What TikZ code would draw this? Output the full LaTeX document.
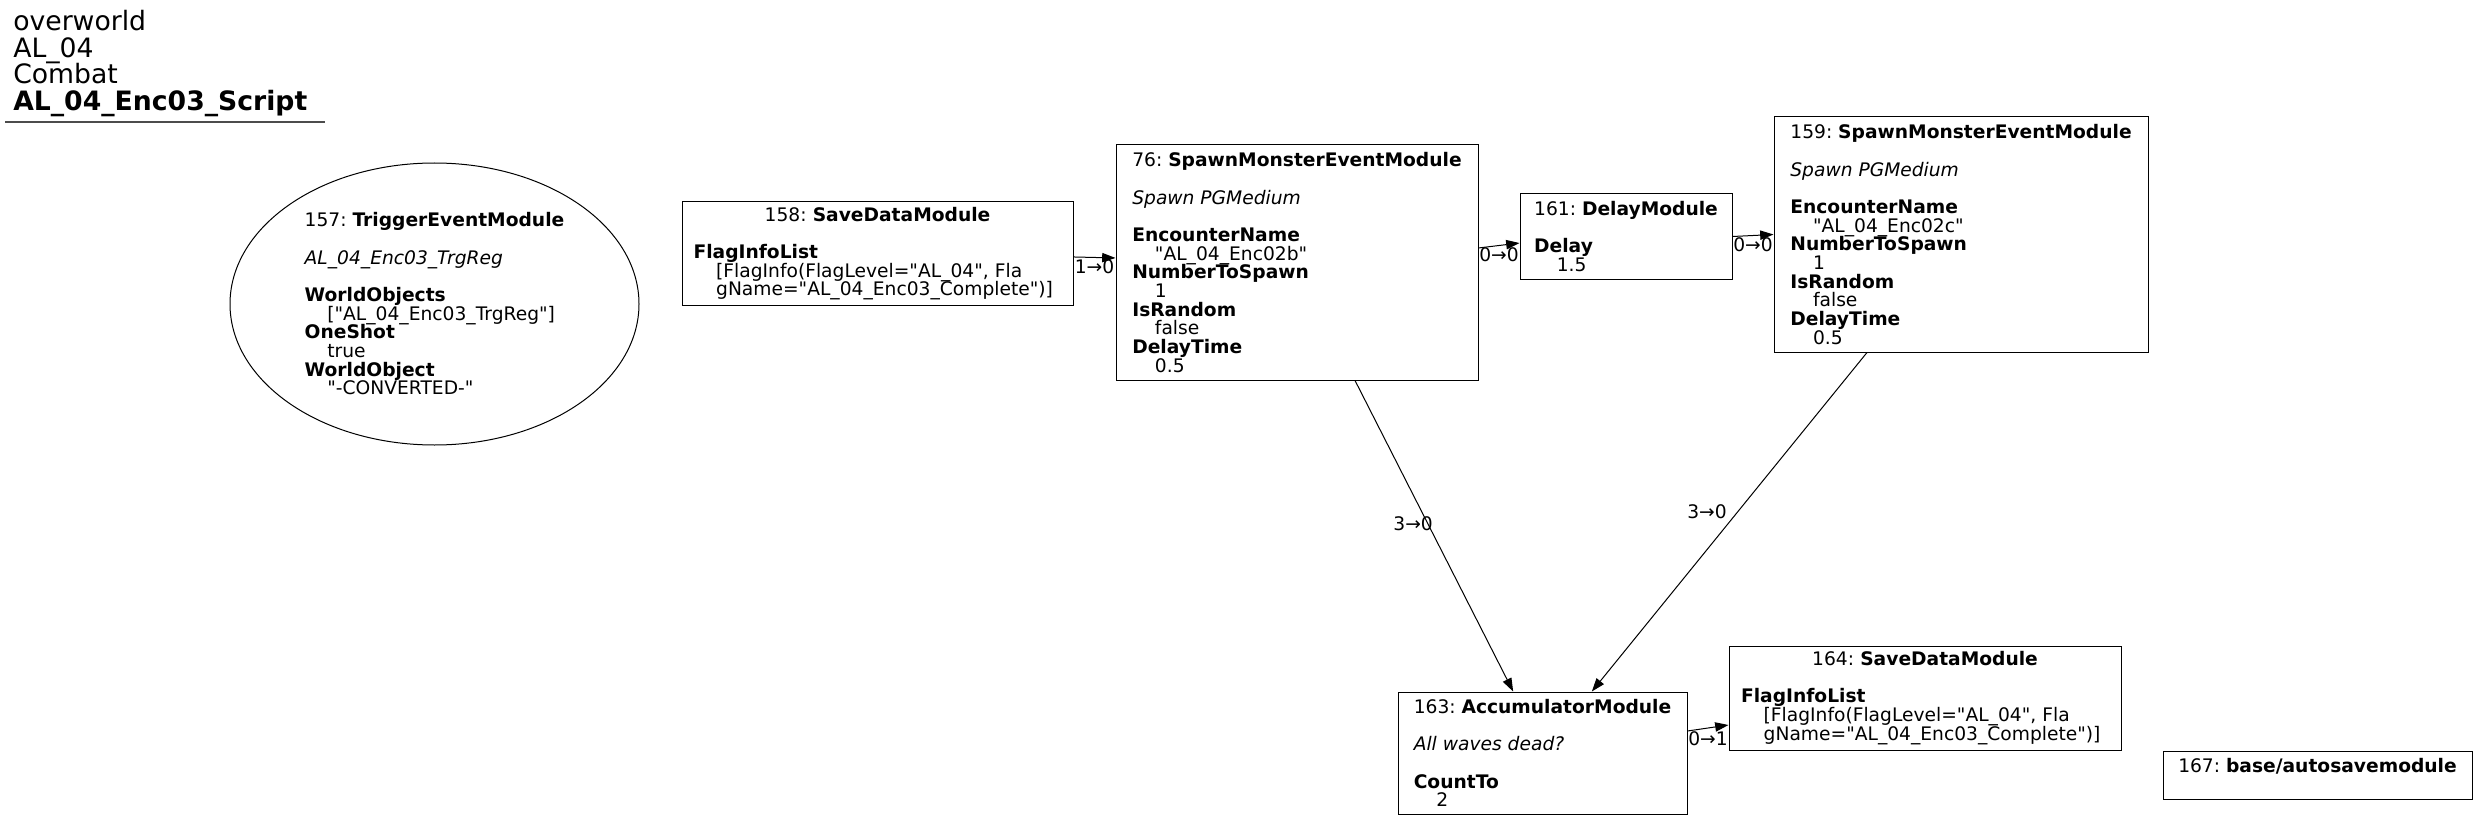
\documentclass[tikz,border=0pt]{standalone}
\usepackage{fontspec}
\setmainfont{DejaVu Sans}
\usetikzlibrary{shapes.geometric,arrows.meta}
\newcommand{\valpad}{\hspace*{17pt}}
\newcommand{\qt}{\textquotedbl}
\frenchspacing
\begin{document}
\begin{tikzpicture}[x=0.75pt,y=-0.75pt,
  mod/.style={draw, line width=0.75pt, align=left, inner xsep=8pt, inner ysep=2pt, font=\fontsize{14}{14}\selectfont},
  flagbox/.style={mod, text width=276pt},
  trig/.style={mod, ellipse},
  link/.style={line width=0.75pt, -{Triangle[length=10pt,width=7pt]}},
  lbl/.style={font=\fontsize{14}{14}\selectfont, inner sep=0pt}]
\useasboundingbox (0,0) rectangle (2477,820);
% script title
\node[anchor=north west, inner sep=0pt, align=left, font=\fontsize{20}{20}\selectfont] (title) at (13,10) {overworld\\AL\_04\\Combat\\\textbf{AL\_04\_Enc03\_Script}};
\draw[line width=1.2pt, black!70] (5,122) -- (325,122);
% trigger
\node[trig, minimum width=306.75pt, minimum height=211.5pt] (n157) at (434.5,304) {157: \textbf{TriggerEventModule}\\ \\ \textit{AL\_04\_Enc03\_TrgReg}\\ \\ \textbf{WorldObjects}\\ \valpad[\qt AL\_04\_Enc03\_TrgReg\qt]\\ \textbf{OneShot}\\ \valpad true\\ \textbf{WorldObject}\\ \valpad\qt-CONVERTED-\qt};
% first wave
\node[flagbox, minimum width=293.25pt, minimum height=77.25pt] (n158) at (877.5,253.5) {\makebox[\linewidth]{158: \textbf{SaveDataModule}}\\ \mbox{}\\ \textbf{FlagInfoList}\\ \valpad[FlagInfo(FlagLevel=\qt AL\_04\qt, Fla\\ \valpad gName=\qt AL\_04\_Enc03\_Complete\qt)]};
\node[mod, minimum width=271.5pt, minimum height=176.25pt] (n76) at (1297,262.5) {76: \textbf{SpawnMonsterEventModule}\\ \\ \textit{Spawn PGMedium}\\ \\ \textbf{EncounterName}\\ \valpad\qt AL\_04\_Enc02b\qt\\ \textbf{NumberToSpawn}\\ \valpad 1\\ \textbf{IsRandom}\\ \valpad false\\ \textbf{DelayTime}\\ \valpad 0.5};
\node[mod, minimum width=159pt, minimum height=63.75pt] (n161) at (1626,236.5) {161: \textbf{DelayModule}\\ \\ \textbf{Delay}\\ \valpad 1.5};
% second wave
\node[mod, minimum width=280.5pt, minimum height=176.25pt] (n159) at (1961,234.5) {159: \textbf{SpawnMonsterEventModule}\\ \\ \textit{Spawn PGMedium}\\ \\ \textbf{EncounterName}\\ \valpad\qt AL\_04\_Enc02c\qt\\ \textbf{NumberToSpawn}\\ \valpad 1\\ \textbf{IsRandom}\\ \valpad false\\ \textbf{DelayTime}\\ \valpad 0.5};
% waves done
\node[mod, minimum width=216.75pt, minimum height=91.5pt] (n163) at (1542.5,753) {163: \textbf{AccumulatorModule}\\ \\ \textit{All waves dead?}\\ \\ \textbf{CountTo}\\ \valpad 2};
\node[flagbox, minimum width=294pt, minimum height=78pt] (n164) at (1925,698) {\makebox[\linewidth]{164: \textbf{SaveDataModule}}\\ \mbox{}\\ \textbf{FlagInfoList}\\ \valpad[FlagInfo(FlagLevel=\qt AL\_04\qt, Fla\\ \valpad gName=\qt AL\_04\_Enc03\_Complete\qt)]};
\node[mod, align=center, minimum width=231.75pt, minimum height=36pt] (n167) at (2317.5,775) {167: \textbf{base/autosavemodule}\\ \mbox{}};
% links
\draw[link] ([yshift=-2.6pt]n158.east) -- node[lbl, yshift=-7pt] (l1) {1→0} ([yshift=3.4pt]n76.west);
\draw[link] ([yshift=10.9pt]n76.east) -- node[lbl, yshift=-7pt] (l2) {0→0} ([yshift=-4.9pt]n161.west);
\draw[link] (n161.east) -- node[lbl, yshift=-7pt] (l3) {0→0} (n159.west);
\draw[link] ([xshift=43.5pt]n76.south) -- node[lbl, pos=.46, xshift=-11pt] (l4) {3→0} ([xshift=-22pt]n163.north);
\draw[link] ([xshift=-70.5pt]n159.south) -- node[lbl, pos=.47, xshift=-23pt] (l5) {3→0} ([xshift=37pt]n163.north);
\draw[link] ([yshift=16.5pt]n163.east) -- node[lbl, yshift=-8pt] (l6) {0→1} ([yshift=-20.25pt]n164.west);
\end{tikzpicture}
\end{document}
